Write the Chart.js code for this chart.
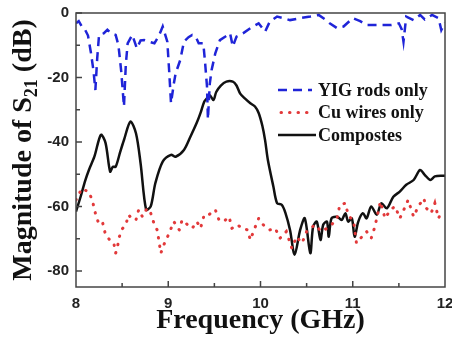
<!DOCTYPE html>
<html>
<head>
<meta charset="utf-8">
<script src="https://cdn.jsdelivr.net/npm/chart.js@4.4.1/dist/chart.umd.min.js"></script>
<style>html,body{margin:0;padding:0;background:#fff}canvas{display:block}</style>
</head>
<body>
<canvas id="chart" width="452" height="337"></canvas>
<script>
const xTicks=[8,9,10,11,12];
const yTicks=[-80,-60,-40,-20,0];
const seriesNames=["YIG rods only","Cu wires only","Compostes"];

// YIG rods only (blue dashed)
const yigFreq=[8.00,8.03,8.06,8.09,8.13,8.16,8.19,8.21,8.23,8.25,8.30,8.34,8.38,8.43,8.46,8.49,8.52,8.54,8.56,8.61,
  8.66,8.70,8.74,8.80,8.85,8.90,8.94,8.99,9.01,9.03,9.06,9.08,9.13,9.17,9.22,9.26,9.30,9.33,9.38,9.40,
  9.42,9.43,9.45,9.47,9.51,9.56,9.62,9.67,9.70,9.74,9.81,9.89,9.98,10.05,10.10,10.18,10.25,10.32,10.43,10.54,
  10.63,10.70,10.75,10.83,10.90,11.00,11.08,11.15,11.30,11.42,11.50,11.53,11.55,11.58,11.66,11.73,11.78,11.86,11.93,11.96,12.00];
const yigDb=[-3.2,-2.5,-4,-4.7,-7,-12,-18,-23.9,-14,-6.8,-6.3,-5.2,-6.3,-6.8,-10,-18,-29,-16,-9.4,-6.8,
  -11,-8.5,-8.4,-9,-9.4,-7,-4.2,-8.9,-18,-28,-22,-18.7,-14.6,-8.9,-7.5,-6.8,-7.5,-9.4,-9.4,-15.6,
  -22.8,-33,-22,-17.7,-12.5,-8.4,-7.3,-6.3,-10.4,-7.3,-6.3,-4.7,-3.2,-5.8,-2.7,-1.1,-1.6,-2.2,-1.6,-1.1,
  -0.6,-2,-3.2,-4.7,-4.2,-1.6,-2.5,-3.7,-3.7,-3.7,-3.2,-5,-8.9,-1.1,-2.2,-0.6,-2,-0.6,-1.6,-5.3,-3];

// Cu wires only (red dotted)
const cuFreq=[8.00,8.03,8.06,8.09,8.14,8.18,8.21,8.25,8.29,8.32,8.38,8.41,8.43,8.45,8.47,8.50,8.54,8.57,8.61,8.65,
  8.68,8.72,8.77,8.81,8.85,8.88,8.90,8.92,8.95,9.01,9.06,9.12,9.15,9.21,9.26,9.31,9.35,9.39,9.44,9.51,
  9.55,9.60,9.66,9.69,9.75,9.80,9.86,9.89,9.93,9.98,10.03,10.10,10.16,10.21,10.28,10.34,10.39,10.45,10.50,10.59,
  10.66,10.72,10.77,10.83,10.86,10.92,10.95,11.01,11.04,11.10,11.15,11.20,11.24,11.30,11.35,11.41,11.46,11.51,11.57,11.60,
  11.66,11.71,11.77,11.80,11.85,11.89,11.93,11.96];
const cuDb=[-58,-56.4,-54.5,-54.9,-55.4,-58.5,-62.1,-65.7,-65.2,-68.8,-70.9,-71.4,-74.5,-72.5,-69.4,-67,-65.7,-62.6,-64,-64.2,
  -61,-63.2,-60.6,-62.1,-65.7,-67.3,-70.9,-74.5,-72,-68.3,-64.7,-67.3,-64.2,-65.7,-66.8,-64.7,-66.8,-62.6,-62.6,-61,
  -64.2,-64.7,-63.2,-66.8,-65.7,-66.8,-67.3,-70.4,-67.3,-63.7,-65.7,-67.3,-66.8,-69.9,-67.8,-73,-69.4,-71.4,-67.8,-65.7,
  -67.8,-66.8,-65.7,-63.7,-59.5,-59,-62.6,-64.7,-71.4,-69.4,-67.8,-69.9,-66.3,-58.5,-63.7,-61,-60,-63.7,-60,-58,
  -63.2,-60,-57.5,-60.6,-62.1,-59,-63.7,-61.6];

// Compostes (black solid)
const compFreq=[8.00,8.05,8.10,8.14,8.20,8.27,8.32,8.37,8.40,8.43,8.48,8.52,8.59,8.65,8.70,8.76,8.81,8.86,8.94,9.03,
  9.08,9.17,9.24,9.31,9.35,9.39,9.42,9.45,9.49,9.52,9.57,9.63,9.70,9.74,9.78,9.83,9.89,9.94,9.98,10.02,
  10.05,10.08,10.14,10.18,10.23,10.27,10.32,10.37,10.43,10.48,10.54,10.57,10.61,10.65,10.68,10.72,10.74,10.77,10.83,10.88,
  10.92,10.95,10.99,11.02,11.06,11.11,11.15,11.20,11.26,11.31,11.37,11.44,11.51,11.58,11.66,11.73,11.78,11.84,11.89,11.98,12.00];
const compDb=[-61.6,-57,-52,-48.7,-44.5,-37.8,-40.3,-49.2,-47.7,-47.7,-43,-39.4,-33.7,-37.3,-46.6,-61,-60,-52.8,-46.1,-44,
  -44.6,-42.5,-38.4,-34,-31,-27.5,-26.5,-25.5,-27,-24.5,-22.5,-21.3,-21.3,-22.5,-25,-26.5,-28,-29,-31,-35,
  -39.5,-45.6,-53.9,-59,-59.5,-62,-67.3,-75,-67.3,-63.7,-74.5,-66.3,-64.7,-70.4,-65.7,-64.7,-69.4,-63.7,-63.2,-64.2,
  -62.1,-64.7,-63.7,-69.4,-64.7,-62.1,-63.7,-60,-62.6,-59,-60.6,-57,-55.4,-53.3,-51.8,-48.7,-50.2,-51.8,-50.7,-50.5,-50.5];

const pts=(f,v)=>f.map((x,i)=>({x,y:v[i]}));
const tickFont={family:"'Liberation Sans', Arial, sans-serif",size:15,weight:"bold"};
const serif="'Liberation Serif','Times New Roman',serif";

// frame, inward ticks, y title with subscript, inner legend
const decor={
  id:"decor",
  afterDraw(chart){
    const {ctx,chartArea:a,scales:{x,y}}=chart;
    ctx.save();
    ctx.strokeStyle="#444";ctx.lineWidth=1.5;ctx.setLineDash([]);
    ctx.strokeRect(a.left,a.top,a.right-a.left,a.bottom-a.top);
    ctx.beginPath();
    for(let v=-80;v<=0;v+=10){
      const p=y.getPixelForValue(v),l=v%20===0?6:4;
      ctx.moveTo(a.left,p);ctx.lineTo(a.left+l,p);
    }
    for(let v=8.5;v<12;v+=0.5){
      const p=x.getPixelForValue(v),l=v%1===0?6:4;
      ctx.moveTo(p,a.bottom);ctx.lineTo(p,a.bottom-l);
    }
    ctx.stroke();

    // y axis title
    ctx.save();
    ctx.translate(24,(a.top+a.bottom)/2);
    ctx.rotate(-Math.PI/2);
    ctx.fillStyle="#111";ctx.textBaseline="middle";ctx.textAlign="left";
    const big="bold 28px "+serif,small="bold 18px "+serif;
    const p1="Magnitude of S",p2="21",p3=" (dB)";
    ctx.font=big;const w1=ctx.measureText(p1).width,w3=ctx.measureText(p3).width;
    ctx.font=small;const w2=ctx.measureText(p2).width;
    let sx=-(w1+w2+w3)/2;
    ctx.font=big;ctx.fillText(p1,sx,0);sx+=w1;
    ctx.font=small;ctx.fillText(p2,sx,8);sx+=w2;
    ctx.font=big;ctx.fillText(p3,sx,0);
    ctx.restore();

    // legend
    chart.data.datasets.forEach((ds,i)=>{
      const ly=90+i*22.5;
      ctx.beginPath();
      ctx.strokeStyle=ds.borderColor;ctx.lineWidth=ds.borderWidth;
      ctx.setLineDash(ds.borderDash||[]);ctx.lineCap=ds.borderCapStyle||"butt";
      ctx.moveTo(i===1?281:278,ly);ctx.lineTo(i===2?316:312,ly);ctx.stroke();
      ctx.setLineDash([]);
      ctx.fillStyle="#111";ctx.font="bold 18px "+serif;ctx.textBaseline="middle";
      ctx.fillText(ds.label,318,ly+1);
    });
    ctx.restore();
  }
};

new Chart(document.getElementById("chart"),{
  type:"line",
  data:{datasets:[
    {label:seriesNames[0],data:pts(yigFreq,yigDb),borderColor:"#1f24d8",borderWidth:2.5,borderDash:[9,6],pointRadius:0,tension:0},
    {label:seriesNames[1],data:pts(cuFreq,cuDb),borderColor:"#e2393a",borderWidth:3,borderDash:[0.5,8],borderCapStyle:"round",pointRadius:0,tension:0},
    {label:seriesNames[2],data:pts(compFreq,compDb),borderColor:"#111",borderWidth:2.5,pointRadius:0,tension:0.3}
  ]},
  options:{
    responsive:false,animation:false,devicePixelRatio:1,
    layout:{padding:{top:13,right:7,left:0,bottom:0}},
    plugins:{legend:{display:false},tooltip:{enabled:false}},
    scales:{
      x:{type:"linear",min:8,max:12,
        afterBuildTicks:s=>{s.ticks=xTicks.map(v=>({value:v}))},
        afterFit:s=>{s.height=50;s.paddingLeft=0;s.paddingRight=0},
        grid:{display:false,drawTicks:false},border:{display:false},
        ticks:{font:tickFont,color:"#222",padding:8,maxRotation:0},
        title:{display:true,text:"Frequency (GHz)",color:"#111",font:{family:serif,size:28,weight:"bold",lineHeight:1},padding:{top:0,bottom:2}}
      },
      y:{min:-85,max:0,
        afterBuildTicks:s=>{s.ticks=yTicks.map(v=>({value:v}))},
        afterFit:s=>{s.width=76;s.paddingTop=0;s.paddingBottom=0},
        grid:{display:false,drawTicks:false},border:{display:false},
        ticks:{font:tickFont,color:"#222",padding:7}
      }
    }
  },
  plugins:[decor]
});
</script>
</body>
</html>
